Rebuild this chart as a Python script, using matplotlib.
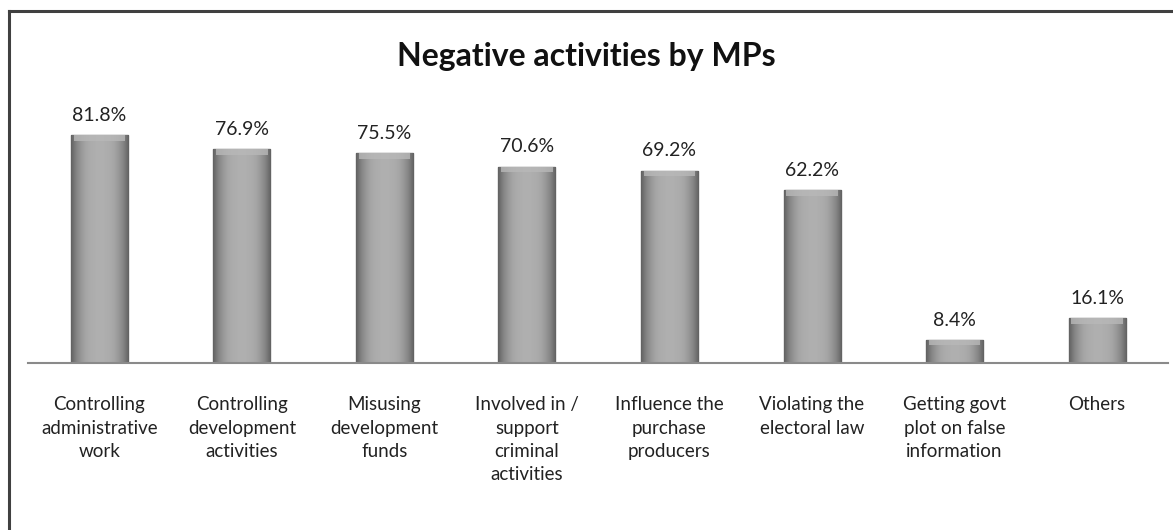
import numpy as np
import matplotlib.pyplot as plt
from matplotlib.lines import Line2D
from matplotlib.patches import Rectangle

categories = ["Controlling\nadministrative\nwork",
              "Controlling\ndevelopment\nactivities",
              "Misusing\ndevelopment\nfunds",
              "Involved in /\nsupport\ncriminal\nactivities",
              "Influence the\npurchase\nproducers",
              "Violating the\nelectoral law",
              "Getting govt\nplot on false\ninformation",
              "Others"]
values = [81.8, 76.9, 75.5, 70.6, 69.2, 62.2, 8.4, 16.1]
value_labels = ["81.8%", "76.9%", "75.5%", "70.6%", "69.2%", "62.2%", "8.4%", "16.1%"]

plt.rcParams['font.family'] = ['Lato', 'DejaVu Sans']

fig = plt.figure(figsize=(11.73, 5.30), dpi=100)
ax = fig.add_axes([0.024, 0.315, 0.972, 0.525])

x = np.arange(len(categories))
bars = ax.bar(x, values, width=0.4, color='#a3a3a3', edgecolor='#6e6e6e', linewidth=1.0, zorder=2)

# horizontal shading inside each bar (dark edges, light centre)
grad = np.abs(np.linspace(-1, 1, 64))[None, :] ** 3
for b in bars:
    x0, y0 = b.get_x(), b.get_y()
    w, h = b.get_width(), b.get_height()
    im = ax.imshow(grad, cmap='Greys', vmin=-1.6, vmax=2.2, aspect='auto',
                   extent=(x0, x0 + w, y0, y0 + h), zorder=2.5)
    im.set_clip_path(b)
    # soft top bevel
    ax.add_patch(Rectangle((x0 + 0.02, y0 + h - 2.0), w - 0.04, 2.0, facecolor='#b8b8b8',
                           edgecolor='none', alpha=0.8, zorder=2.6))

for xi, v, lab in zip(x, values, value_labels):
    ax.annotate(lab, (xi, v), xytext=(0, 8), textcoords='offset points',
                ha='center', va='bottom', fontsize=14, color='#222222')

ax.set_xlim(-0.5, len(categories) - 0.5)
ax.set_ylim(0, 100)
ax.set_xticks(x)
ax.set_xticklabels(categories, fontsize=13.5, color='#222222', linespacing=1.45)
ax.tick_params(axis='x', length=0, pad=24)
ax.set_yticks([])
for s in ['top', 'right', 'left']:
    ax.spines[s].set_visible(False)
ax.spines['bottom'].set_color('#8a8a8a')
ax.spines['bottom'].set_linewidth(1.5)

fig.text(0.5, 0.893, "Negative activities by MPs", ha='center', va='center',
         fontsize=23, fontweight='bold', color='#111111')

# chart frame: only top and left edges visible
fig.lines.append(Line2D([9 / 1173, 1], [1 - 10.5 / 530, 1 - 10.5 / 530],
                        transform=fig.transFigure, color='#404040', linewidth=2.2))
fig.lines.append(Line2D([9 / 1173, 9 / 1173], [0, 1 - 10.5 / 530],
                        transform=fig.transFigure, color='#404040', linewidth=2.2))

fig.savefig('out.png', dpi=100)
